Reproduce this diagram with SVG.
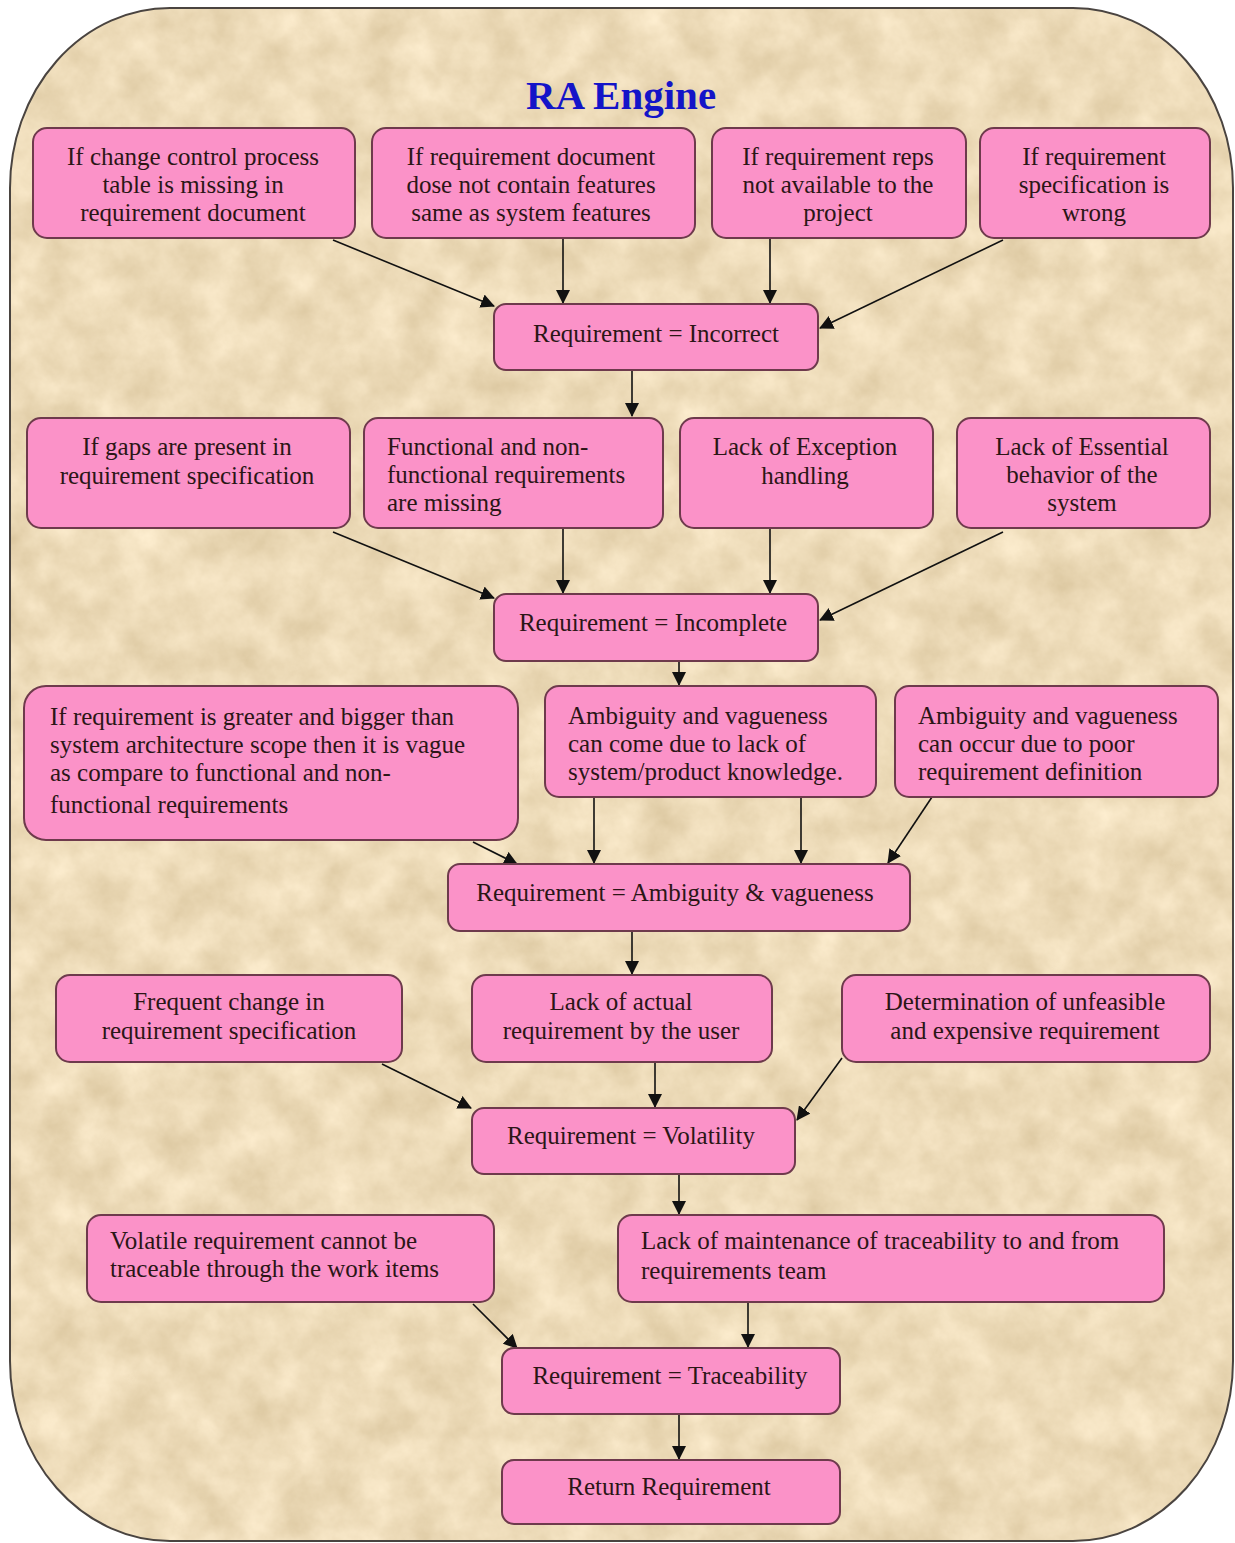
<svg xmlns="http://www.w3.org/2000/svg" width="1235" height="1543" viewBox="0 0 1235 1543">
  <style>
    .box { fill: #fb92c8; stroke: #6e3a4c; stroke-width: 2; }
    .t { font-family: "Liberation Serif", "Times New Roman", serif; font-size: 25px; fill: #2b1616; }
    .c { text-anchor: middle; }
    .title { font-family: "Liberation Serif", "Times New Roman", serif; font-size: 41px; font-weight: bold; fill: #1414c8; text-anchor: middle; }
    .edge { stroke: #111; stroke-width: 1.6; fill: none; marker-end: url(#arrow); }
  </style>
  <defs>
    <marker id="arrow" viewBox="0 0 14 14" refX="13" refY="7" markerWidth="14" markerHeight="14" markerUnits="userSpaceOnUse" orient="auto">
      <path d="M0,0 L14,7 L0,14 Z" fill="#111"/>
    </marker>
    <clipPath id="frameClip">
      <rect x="10" y="8" width="1223" height="1533" rx="160" ry="180"/>
    </clipPath>
    <filter id="parchment" filterUnits="userSpaceOnUse" x="0" y="0" width="1235" height="1543" color-interpolation-filters="sRGB">
      <feTurbulence type="fractalNoise" baseFrequency="0.025" numOctaves="5" seed="7"/>
      <feColorMatrix type="matrix" values="0.15 0 0 0 0.855  0.17 0 0 0 0.775  0.21 0 0 0 0.62  0 0 0 0 1"/>
    </filter>
  </defs>

  <rect width="1235" height="1543" fill="#ffffff"/>

  <!-- parchment panel -->
  <g id="frame">
    <rect x="10" y="8" width="1223" height="1533" fill="#ecdcb6" filter="url(#parchment)" clip-path="url(#frameClip)"/>
    <rect x="10" y="8" width="1223" height="1533" rx="160" ry="180" fill="none" stroke="#4a4440" stroke-width="2"/>
  </g>

  <text class="title" x="621" y="109">RA Engine</text>

  <!-- connectors -->
  <g id="connectors">
    <line class="edge" x1="333" y1="240" x2="494" y2="306"/>
    <line class="edge" x1="563" y1="238" x2="563" y2="303"/>
    <line class="edge" x1="770" y1="238" x2="770" y2="303"/>
    <line class="edge" x1="1003" y1="240" x2="820" y2="328"/>
    <line class="edge" x1="632" y1="370" x2="632" y2="416"/>

    <line class="edge" x1="333" y1="532" x2="494" y2="598"/>
    <line class="edge" x1="563" y1="528" x2="563" y2="593"/>
    <line class="edge" x1="770" y1="528" x2="770" y2="593"/>
    <line class="edge" x1="1003" y1="532" x2="820" y2="620"/>
    <line class="edge" x1="679" y1="661" x2="679" y2="685"/>

    <line class="edge" x1="473" y1="842" x2="517" y2="864"/>
    <line class="edge" x1="594" y1="797" x2="594" y2="863"/>
    <line class="edge" x1="801" y1="797" x2="801" y2="863"/>
    <line class="edge" x1="932" y1="797" x2="888" y2="863"/>
    <line class="edge" x1="632" y1="931" x2="632" y2="974"/>

    <line class="edge" x1="382" y1="1064" x2="471" y2="1108"/>
    <line class="edge" x1="655" y1="1062" x2="655" y2="1107"/>
    <line class="edge" x1="842" y1="1058" x2="797" y2="1120"/>
    <line class="edge" x1="679" y1="1174" x2="679" y2="1214"/>

    <line class="edge" x1="473" y1="1304" x2="517" y2="1348"/>
    <line class="edge" x1="748" y1="1302" x2="748" y2="1347"/>
    <line class="edge" x1="679" y1="1414" x2="679" y2="1459"/>
  </g>

  <!-- row 1 -->
  <g id="n-change-control">
    <rect class="box" x="33" y="128" width="322" height="110" rx="14"/>
    <text class="t c"><tspan x="193" y="165">If change control process</tspan><tspan x="193" y="193">table is missing in</tspan><tspan x="193" y="221">requirement document</tspan></text>
  </g>
  <g id="n-doc-features">
    <rect class="box" x="372" y="128" width="323" height="110" rx="14"/>
    <text class="t c"><tspan x="531" y="165">If requirement document</tspan><tspan x="531" y="193">dose not contain features</tspan><tspan x="531" y="221">same as system features</tspan></text>
  </g>
  <g id="n-reps">
    <rect class="box" x="712" y="128" width="254" height="110" rx="14"/>
    <text class="t c"><tspan x="838" y="165">If requirement reps</tspan><tspan x="838" y="193">not available to the</tspan><tspan x="838" y="221">project</tspan></text>
  </g>
  <g id="n-spec-wrong">
    <rect class="box" x="980" y="128" width="230" height="110" rx="14"/>
    <text class="t c"><tspan x="1094" y="165">If requirement</tspan><tspan x="1094" y="193">specification is</tspan><tspan x="1094" y="221">wrong</tspan></text>
  </g>

  <g id="n-incorrect">
    <rect class="box" x="494" y="304" width="324" height="66" rx="12"/>
    <text class="t c" x="656" y="342">Requirement = Incorrect</text>
  </g>

  <!-- row 2 -->
  <g id="n-gaps">
    <rect class="box" x="27" y="418" width="323" height="110" rx="14"/>
    <text class="t c"><tspan x="187" y="455">If gaps are present in</tspan><tspan x="187" y="484">requirement specification</tspan></text>
  </g>
  <g id="n-missing">
    <rect class="box" x="364" y="418" width="299" height="110" rx="14"/>
    <text class="t"><tspan x="387" y="455">Functional and non-</tspan><tspan x="387" y="483">functional requirements</tspan><tspan x="387" y="511">are missing</tspan></text>
  </g>
  <g id="n-exception">
    <rect class="box" x="680" y="418" width="253" height="110" rx="14"/>
    <text class="t c"><tspan x="805" y="455">Lack of Exception</tspan><tspan x="805" y="484">handling</tspan></text>
  </g>
  <g id="n-essential">
    <rect class="box" x="957" y="418" width="253" height="110" rx="14"/>
    <text class="t c"><tspan x="1082" y="455">Lack of Essential</tspan><tspan x="1082" y="483">behavior of the</tspan><tspan x="1082" y="511">system</tspan></text>
  </g>

  <g id="n-incomplete">
    <rect class="box" x="494" y="594" width="324" height="67" rx="12"/>
    <text class="t c" x="653" y="631">Requirement = Incomplete</text>
  </g>

  <!-- row 3 -->
  <g id="n-scope">
    <rect class="box" x="24" y="686" width="494" height="154" rx="22"/>
    <text class="t"><tspan x="50" y="725">If requirement is greater and bigger than</tspan><tspan x="50" y="753">system architecture scope then it is vague</tspan><tspan x="50" y="781">as compare to functional and non-</tspan><tspan x="50" y="813">functional requirements</tspan></text>
  </g>
  <g id="n-knowledge">
    <rect class="box" x="545" y="686" width="331" height="111" rx="14"/>
    <text class="t"><tspan x="568" y="724">Ambiguity and vagueness</tspan><tspan x="568" y="752">can come due to lack of</tspan><tspan x="568" y="780">system/product knowledge.</tspan></text>
  </g>
  <g id="n-definition">
    <rect class="box" x="895" y="686" width="323" height="111" rx="14"/>
    <text class="t"><tspan x="918" y="724">Ambiguity and vagueness</tspan><tspan x="918" y="752">can occur due to poor</tspan><tspan x="918" y="780">requirement definition</tspan></text>
  </g>

  <g id="n-ambiguity">
    <rect class="box" x="448" y="864" width="462" height="67" rx="12"/>
    <text class="t c" x="675" y="901">Requirement = Ambiguity &amp; vagueness</text>
  </g>

  <!-- row 4 -->
  <g id="n-frequent">
    <rect class="box" x="56" y="975" width="346" height="87" rx="14"/>
    <text class="t c"><tspan x="229" y="1010">Frequent change in</tspan><tspan x="229" y="1039">requirement specification</tspan></text>
  </g>
  <g id="n-actual">
    <rect class="box" x="472" y="975" width="300" height="87" rx="14"/>
    <text class="t c"><tspan x="621" y="1010">Lack of actual</tspan><tspan x="621" y="1039">requirement by the user</tspan></text>
  </g>
  <g id="n-unfeasible">
    <rect class="box" x="842" y="975" width="368" height="87" rx="14"/>
    <text class="t c"><tspan x="1025" y="1010">Determination of unfeasible</tspan><tspan x="1025" y="1039">and expensive requirement</tspan></text>
  </g>

  <g id="n-volatility">
    <rect class="box" x="472" y="1108" width="323" height="66" rx="12"/>
    <text class="t c" x="631" y="1144">Requirement = Volatility</text>
  </g>

  <!-- row 5 -->
  <g id="n-volatile-items">
    <rect class="box" x="87" y="1215" width="407" height="87" rx="14"/>
    <text class="t"><tspan x="110" y="1249">Volatile requirement cannot be</tspan><tspan x="110" y="1277">traceable through the work items</tspan></text>
  </g>
  <g id="n-maintenance">
    <rect class="box" x="618" y="1215" width="546" height="87" rx="14"/>
    <text class="t"><tspan x="641" y="1249">Lack of maintenance of traceability to and from</tspan><tspan x="641" y="1279">requirements team</tspan></text>
  </g>

  <g id="n-traceability">
    <rect class="box" x="502" y="1348" width="338" height="66" rx="12"/>
    <text class="t c" x="670" y="1384">Requirement = Traceability</text>
  </g>

  <g id="n-return">
    <rect class="box" x="502" y="1460" width="338" height="64" rx="12"/>
    <text class="t c" x="669" y="1495">Return Requirement</text>
  </g>
</svg>
